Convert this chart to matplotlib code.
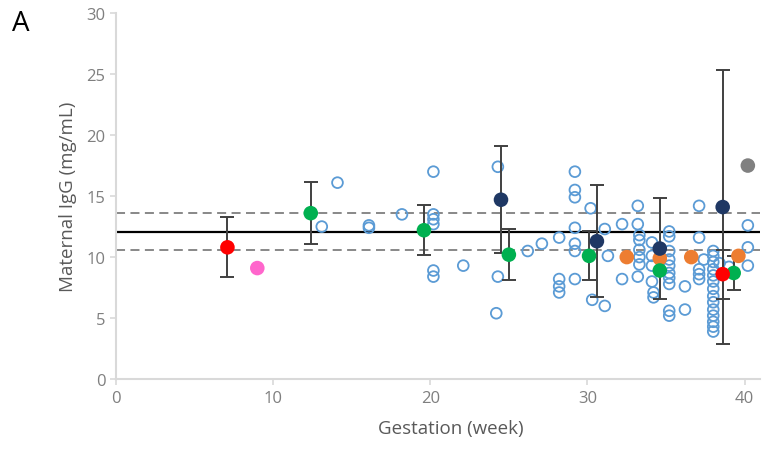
import matplotlib.pyplot as plt

# ---------------- DATA ----------------
# individual maternal IgG values (open circles)
open_x = [13.1, 14.1, 16.1, 16.1, 18.2, 20.2, 20.2, 20.2, 20.2, 20.2, 20.2, 22.1,
          24.3, 24.3, 24.2, 26.2, 27.1, 28.2, 28.2, 28.2, 28.2,
          29.2, 29.2, 29.2, 29.2, 29.2, 29.2, 29.2, 30.2, 30.3,
          31.1, 31.3, 31.1, 32.2, 32.2,
          33.2, 33.2, 33.3, 33.3, 33.3, 33.3, 33.3, 33.2,
          34.1, 34.1, 34.1, 34.1, 34.2, 34.2,
          35.2, 35.2, 35.2, 35.2, 35.2, 35.2, 35.2, 35.2, 35.2, 35.2,
          36.2, 36.2, 37.1, 37.1, 37.1, 37.1, 37.1, 37.4,
          38.0, 38.0, 38.0, 38.0, 38.0, 38.0, 38.0, 38.0, 38.0, 38.0, 38.0, 38.0, 38.0, 38.0,
          38.4, 39.0, 40.2, 40.2, 40.2]
open_y = [12.5, 16.1, 12.6, 12.4, 13.5, 17.0, 13.5, 13.1, 12.7, 8.9, 8.4, 9.3,
          17.4, 8.4, 5.4, 10.5, 11.1, 11.6, 8.2, 7.6, 7.1,
          17.0, 15.5, 14.9, 12.4, 11.1, 10.5, 8.2, 14.0, 6.5,
          12.3, 10.1, 6.0, 12.7, 8.2,
          14.2, 12.7, 11.8, 11.4, 10.6, 10.0, 9.4, 8.4,
          11.2, 10.1, 9.3, 8.0, 7.1, 6.7,
          12.1, 11.7, 10.5, 9.8, 9.3, 8.7, 8.3, 7.8, 5.6, 5.2,
          7.6, 5.7, 14.2, 11.6, 9.0, 8.6, 8.2, 9.8,
          10.5, 10.1, 9.6, 9.0, 8.5, 8.0, 7.4, 6.8, 6.3, 5.7, 5.2, 4.7, 4.3, 3.9,
          9.5, 9.2, 12.6, 10.8, 9.3]

# summary points (filled), with error bars (0 = none)
red_x = [7.1, 38.6]
red_y = [10.8, 8.6]
red_err = [2.45, 2.0]

green_x = [12.4, 19.6, 25.0, 30.1, 34.6, 39.3]
green_y = [13.6, 12.2, 10.2, 10.1, 8.9, 8.7]
green_err = [2.55, 2.05, 2.1, 2.0, 0, 1.4]

navy_x = [24.5, 30.6, 34.6, 38.6]
navy_y = [14.7, 11.3, 10.7, 14.1]
navy_err = [4.4, 4.6, 4.15, 11.25]

orange_x = [32.5, 34.6, 36.6, 39.6]
orange_y = [10.0, 9.9, 10.0, 10.1]

pink_x = [9.0]
pink_y = [9.1]

gray_x = [40.2]
gray_y = [17.5]

mean_igg = 12.05
ci_low, ci_high = 10.6, 13.6

# ---------------- PLOT ----------------
plt.rcParams['font.family'] = ['Open Sans', 'DejaVu Sans']

fig = plt.figure(figsize=(7.72, 4.52), dpi=100)
ax = fig.add_axes([0.150, 0.159, 0.835, 0.810])

ax.axhline(mean_igg, color='black', lw=1.6, zorder=2)
ax.axhline(ci_high, color='#7f7f7f', lw=1.3, ls=(0, (5, 3)), zorder=2)
ax.axhline(ci_low, color='#7f7f7f', lw=1.3, ls=(0, (5, 3)), zorder=2)

ax.scatter(open_x, open_y, s=60, facecolors='none', edgecolors='#5b9bd5',
           linewidths=1.3, zorder=3)

err_kw = dict(fmt='none', ecolor='#404040', elinewidth=1.4, capsize=5,
              capthick=1.4, zorder=4)
for xs, ys, es in [(red_x, red_y, red_err), (green_x, green_y, green_err),
                   (navy_x, navy_y, navy_err)]:
    for x, y, e in zip(xs, ys, es):
        if e > 0:
            ax.errorbar([x], [y], yerr=[e], **err_kw)

pt = dict(s=110, edgecolors='none', zorder=5)
ax.scatter(orange_x, orange_y, color='#ed7d31', **pt)
ax.scatter(navy_x, navy_y, color='#1f3864', **pt)
ax.scatter(green_x, green_y, color='#00b050', **pt)
ax.scatter(red_x, red_y, color='#ff0000', **pt)
ax.scatter(pink_x, pink_y, color='#ff66cc', **pt)
ax.scatter(gray_x, gray_y, color='#808080', **pt)

ax.set_xlim(0, 41)
ax.set_ylim(0, 30)
ax.set_xticks([0, 10, 20, 30, 40])
ax.set_yticks([0, 5, 10, 15, 20, 25, 30])

for s in ['top', 'right']:
    ax.spines[s].set_visible(False)
for s in ['left', 'bottom']:
    ax.spines[s].set_color('#d9d9d9')
    ax.spines[s].set_linewidth(1.5)
ax.tick_params(colors='#d9d9d9', labelcolor='#7f7f7f', labelsize=12,
               length=4, width=1.2)

ax.set_xlabel('Gestation (week)', color='#595959', fontsize=13.5,
              labelpad=10, x=0.52)
ax.set_ylabel('Maternal IgG (mg/mL)', color='#595959', fontsize=13.5,
              labelpad=7)

fig.text(0.015, 0.948, 'A', fontsize=20, color='black', va='center')

fig.savefig('out.png', dpi=100)
